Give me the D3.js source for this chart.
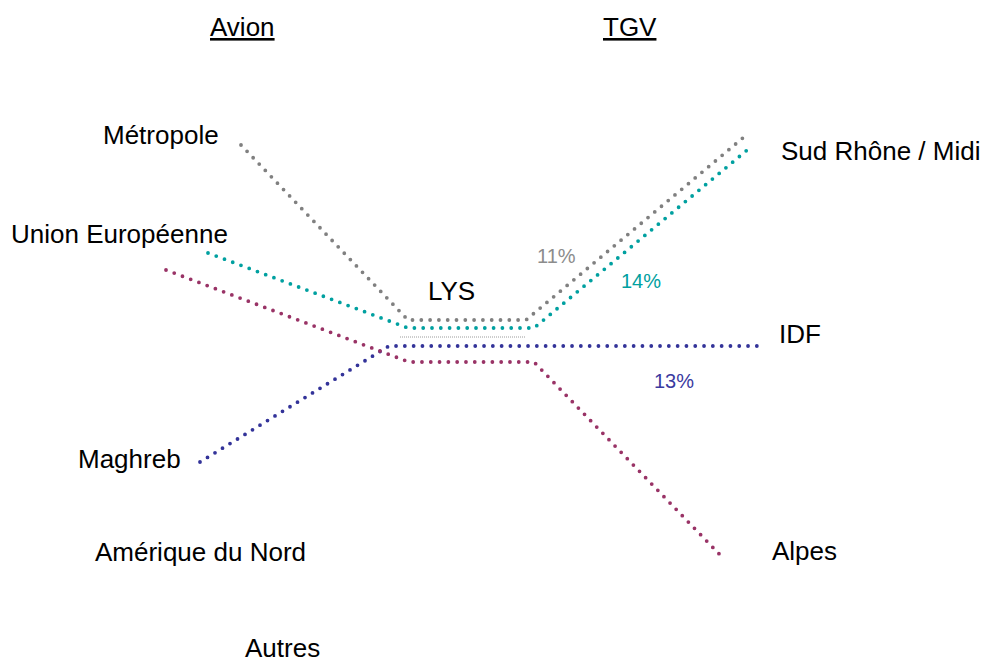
<!DOCTYPE html>
<html>
<head>
<meta charset="utf-8">
<script src="https://cdn.jsdelivr.net/npm/d3@7"></script>
<style>
  body { margin: 0; background: #fff; }
  text { font-family: "Liberation Sans", Arial, sans-serif; }
</style>
</head>
<body>
<svg id="vis"></svg>
<script>
// flow lines, points given in the chart's own layout units
var flowNames  = ["Métropole", "Union Européenne", "Maghreb", "Alpes"];
var flowColors = ["#808080", "#00a0a0", "#333399", "#993366"];
var flowPoints = [
  [[241,145],[408,320],[526,320],[744,137]],
  [[208,253],[408,328],[534,328],[752,146]],
  [[200,462],[389,346],[757,346]],
  [[166,270],[409,362],[534,362],[725,560]]
];
var hubLine = [[400,337],[526,337]];

// labels
var headers = [{text:"Avion", x:210, y:36}, {text:"TGV", x:603, y:36}];
var avionLabels = ["Métropole", "Union Européenne", "Maghreb", "Amérique du Nord", "Autres"];
var avionPos    = [[103,144],[11,243],[78,468],[95,561],[245,657]];
var tgvLabels   = ["Sud Rhône / Midi", "IDF", "Alpes"];
var tgvPos      = [[781,160],[779,343],[772,560]];
var hubLabel    = {text:"LYS", x:428, y:300};
var shares      = ["11%", "14%", "13%"];
var shareColors = ["#8c8c8c", "#00a0a0", "#3a3aa0"];
var sharePos    = [[537,263],[621,288],[654,388]];

var width = 984;
var height = 662;

const svg = d3.select("#vis").attr("width", width).attr("height", height);

var x = d3.scaleLinear().domain([0, 984]).range([0, width]);
var y = d3.scaleLinear().domain([0, 662]).range([0, height]);

var line = d3.line()
    .x(function(d){ return x(d[0]); })
    .y(function(d){ return y(d[1]); });

//thin dotted line under the hub
svg.append("path")
    .attr("d", line(hubLine))
    .attr("fill", "none")
    .attr("stroke", "#9a9a9a")
    .attr("stroke-width", 1)
    .attr("stroke-dasharray", "1 1");

//dotted flow lines
svg.append("g").selectAll("path")
    .data(flowPoints)
    .enter()
    .append("path")
    .attr("d", function(d){ return line(d); })
    .attr("fill", "none")
    .attr("stroke", function(d, i){ return flowColors[i]; })
    .attr("stroke-width", 3.8)
    .attr("stroke-linecap", "round")
    .attr("stroke-linejoin", "round")
    .attr("stroke-dasharray", "0 8.8");

//column headers
svg.append("g").selectAll("text")
    .data(headers)
    .enter()
    .append("text")
    .attr("x", function(d){ return x(d.x); })
    .attr("y", function(d){ return y(d.y); })
    .text(function(d){ return d.text; })
    .style("font-size", "26px")
    .style("text-decoration", "underline")
    .style("fill", "#000");

//origin / destination labels
var allLabels = avionLabels.map(function(t, i){ return {text:t, p:avionPos[i]}; })
    .concat(tgvLabels.map(function(t, i){ return {text:t, p:tgvPos[i]}; }))
    .concat([{text:hubLabel.text, p:[hubLabel.x, hubLabel.y]}]);

svg.append("g").selectAll("text")
    .data(allLabels)
    .enter()
    .append("text")
    .attr("x", function(d){ return x(d.p[0]); })
    .attr("y", function(d){ return y(d.p[1]); })
    .text(function(d){ return d.text; })
    .style("font-size", "26px")
    .style("fill", "#000");

//shares
svg.append("g").selectAll("text")
    .data(shares)
    .enter()
    .append("text")
    .attr("x", function(d, i){ return x(sharePos[i][0]); })
    .attr("y", function(d, i){ return y(sharePos[i][1]); })
    .text(function(d){ return d; })
    .style("font-size", "20px")
    .style("fill", function(d, i){ return shareColors[i]; });
</script>
</body>
</html>
